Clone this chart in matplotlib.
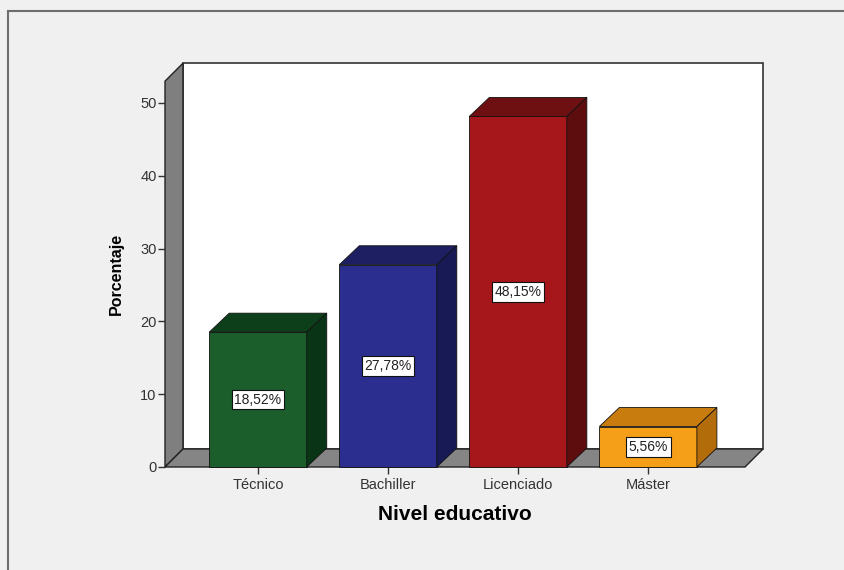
import matplotlib
matplotlib.use("Agg")
from matplotlib import pyplot as plt
from matplotlib.patches import Polygon
from matplotlib.lines import Line2D

plt.rcParams['font.family'] = ['Liberation Sans', 'DejaVu Sans']

categorias = ['Técnico', 'Bachiller', 'Licenciado', 'Máster']
porcentajes = [18.52, 27.78, 48.15, 5.56]
etiquetas = ['18,52%', '27,78%', '48,15%', '5,56%']
yticks = [0, 10, 20, 30, 40, 50]

color_frente = ['#1b5e2c', '#2b2e8e', '#a6171c', '#f59e18']
color_arriba = ['#0e3f1b', '#1d1f62', '#6e1011', '#c97c0e']
color_lado = ['#0a3416', '#181a55', '#5e0d0e', '#b36c0a']

fig = plt.figure(figsize=(8.44, 5.70), dpi=100, facecolor='#f0f0f0')
W, H = 844, 570

# ejes: frente del piso de x=165 a 745 px, y=0 en 467 px
x0_px, x1_px, y0_px = 165, 745, 467
px_por_unidad = 7.28
ymax = 53
ax = fig.add_axes([x0_px / W, (H - y0_px) / H, (x1_px - x0_px) / W, ymax * px_por_unidad / H])
ax.set_facecolor('none')
xmin, xmax = -0.715, 3.745
ax.set_xlim(xmin, xmax)
ax.set_ylim(0, ymax)
for s in ax.spines.values():
    s.set_visible(False)

ux = (xmax - xmin) / (x1_px - x0_px)  # datos por pixel en x
uy = 1 / px_por_unidad
dx, dy = 18 * ux, 18 * uy      # profundidad de paredes
bdx, bdy = 20 * ux, 19 * uy    # profundidad de barras

# pared de fondo
ax.add_patch(Polygon([(xmin + dx, dy), (xmax + dx, dy), (xmax + dx, ymax + dy), (xmin + dx, ymax + dy)],
                     closed=True, facecolor='white', edgecolor='#333333', lw=1.2, clip_on=False, zorder=1))
# pared izquierda
ax.add_patch(Polygon([(xmin, 0), (xmin + dx, dy), (xmin + dx, ymax + dy), (xmin, ymax)],
                     closed=True, facecolor='#7f7f7f', edgecolor='#222222', lw=1.0, clip_on=False, zorder=2))
# piso
ax.add_patch(Polygon([(xmin, 0), (xmax, 0), (xmax + dx, dy), (xmin + dx, dy)],
                     closed=True, facecolor='#858585', edgecolor='#222222', lw=1.0, clip_on=False, zorder=2))

ancho = 0.75
for i, v in enumerate(porcentajes):
    l, r = i - ancho / 2, i + ancho / 2
    ax.add_patch(Polygon([(l, 0), (r, 0), (r, v), (l, v)], closed=True,
                         facecolor=color_frente[i], edgecolor='#111111', lw=0.6, clip_on=False, zorder=3))
    ax.add_patch(Polygon([(l, v), (r, v), (r + bdx, v + bdy), (l + bdx, v + bdy)], closed=True,
                         facecolor=color_arriba[i], edgecolor='#111111', lw=0.6, clip_on=False, zorder=3))
    ax.add_patch(Polygon([(r, 0), (r + bdx, bdy), (r + bdx, v + bdy), (r, v)], closed=True,
                         facecolor=color_lado[i], edgecolor='#111111', lw=0.6, clip_on=False, zorder=3))
    ax.text(i, v / 2, etiquetas[i], ha='center', va='center', fontsize=10, color='#222222', zorder=5,
            bbox=dict(boxstyle='square,pad=0.2', facecolor='white', edgecolor='#111111', lw=0.8))

ax.set_yticks(yticks)
ax.set_yticklabels([str(t) for t in yticks], fontsize=10.5, color='#333333')
ax.set_xticks(range(len(categorias)))
ax.set_xticklabels(categorias, fontsize=10.5, color='#333333')
ax.tick_params(axis='y', length=5, width=1, color='#333333', pad=1)
ax.tick_params(axis='x', length=5, width=1, color='#333333', pad=3)
ax.set_ylabel('Porcentaje', fontsize=11.5, fontweight='bold', labelpad=12)
ax.set_xlabel('Nivel educativo', fontsize=15, fontweight='bold', labelpad=9)

# marco exterior
fig.add_artist(Line2D([8 / W, 8 / W], [0, 1 - 11 / H], color='#6e6e6e', lw=1.5))
fig.add_artist(Line2D([8 / W, 1], [1 - 11 / H, 1 - 11 / H], color='#6e6e6e', lw=1.5))

fig.savefig('out.png', dpi=100, facecolor=fig.get_facecolor())
